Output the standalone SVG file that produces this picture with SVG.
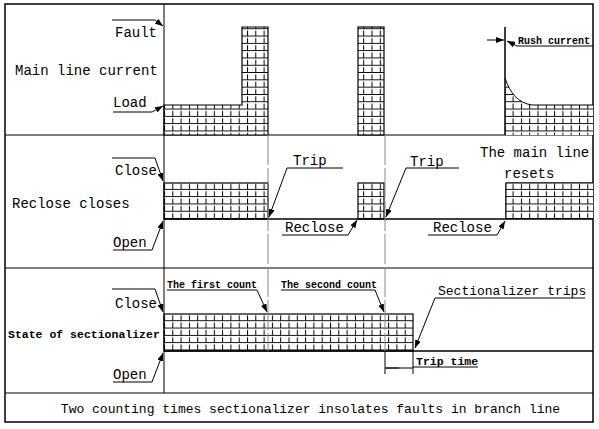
<svg xmlns="http://www.w3.org/2000/svg" width="599" height="429" viewBox="0 0 599 429">
<style>
.t{font-family:"Liberation Mono","DejaVu Sans Mono",monospace;font-size:14px;fill:#000}
.s{font-family:"Liberation Mono","DejaVu Sans Mono",monospace;font-size:10px;font-weight:bold;fill:#000}
.m{font-family:"Liberation Mono","DejaVu Sans Mono",monospace;font-size:11.5px;font-weight:bold;fill:#000}
.c{font-family:"Liberation Mono","DejaVu Sans Mono",monospace;font-size:13px;fill:#000}
.ln{stroke:#000;stroke-width:1;fill:none}
.bd{stroke:#000;stroke-width:1.5;fill:none}
.ar{stroke:#000;stroke-width:1;fill:none;marker-end:url(#ah)}
.gy{stroke:#888;stroke-width:1;fill:none;stroke-dasharray:30 3}
.h{fill:url(#grid);stroke:#000;stroke-width:1.2}
</style>
<defs>
<marker id="ah" markerUnits="userSpaceOnUse" markerWidth="8" markerHeight="6" refX="8" refY="3" orient="auto">
<path d="M0,0 L8,3 L0,6 z" fill="#000"/>
</marker>
<pattern id="grid" x="164" y="0" width="8.3" height="7.3" patternUnits="userSpaceOnUse">
<rect width="8.3" height="7.3" fill="#fff"/>
<path d="M0.5,1.3 V7.3 M0,6.8 H8.3" stroke="#000" stroke-width="1" fill="none"/>
</pattern>
</defs>

<g id="frame">
<rect x="5" y="4" width="588" height="418" class="bd"/>
<line x1="5" y1="135" x2="593" y2="135" class="ln"/>
<line x1="5" y1="268" x2="593" y2="268" class="ln"/>
<line x1="5" y1="393" x2="593" y2="393" class="ln"/>
<line x1="164" y1="4" x2="164" y2="393" class="ln"/>
</g>

<g id="panel-current">
<path d="M164,105 H242 V27 H268 V135 H164 Z" class="h"/>
<rect x="358" y="27" width="26" height="108" class="h"/>
<path d="M505,135 V78 C510,93 518,103 532,105 H593 V135 Z" fill="url(#grid)" stroke="none"/>
<path d="M532,105 H593" class="ln"/>
<line x1="505" y1="27" x2="505" y2="135" class="bd"/>
<path d="M505,78 C510,93 518,103 532,105" class="ln"/>
</g>

<g id="panel-recloser">
<rect x="164" y="183" width="104" height="36" class="h"/>
<rect x="358" y="183" width="26" height="36" class="h"/>
<path d="M593,183 H506 V219" fill="url(#grid)" stroke="#000" stroke-width="1.2"/>
<rect x="506" y="183" width="87" height="36" fill="url(#grid)" stroke="none"/>
<path d="M593,183 H506 V219" class="ln"/>
<line x1="164" y1="219" x2="593" y2="219" class="bd"/>
</g>

<g id="panel-sectionalizer">
<rect x="164" y="314" width="249" height="37" class="h"/>
<line x1="164" y1="351" x2="593" y2="351" class="bd"/>
</g>

<g id="guides">
<line x1="268" y1="135" x2="268" y2="351" class="gy"/>
<line x1="385" y1="135" x2="385" y2="351" class="gy"/>
</g>

<g id="connectors">
<path d="M112,20 H155 L163,26" class="ar"/>
<path d="M113,112 H152 L163,106" class="ar"/>
<path d="M487,40 H504" class="ar"/>
<path d="M593,46 H517 L507,41" class="ar"/>
<path d="M112,158 H155 L163,181" class="ar"/>
<path d="M113,250 H152 L163,221" class="ar"/>
<path d="M343,168 H287 L269,217" class="ar"/>
<path d="M282,235 H348 L357,220" class="ar"/>
<path d="M459,168 H406 L386,217" class="ar"/>
<path d="M428,235 H497 L505,221" class="ar"/>
<path d="M112,289 H155 L163,312" class="ar"/>
<path d="M113,382 H152 L163,353" class="ar"/>
<path d="M167,290 H257 L267,312" class="ar"/>
<path d="M281,290 H375 L384,312" class="ar"/>
<path d="M585,298 H435 L415,348" class="ar"/>
<line x1="385" y1="351" x2="385" y2="374" class="ln"/>
<line x1="413" y1="351" x2="413" y2="374" class="ln"/>
<path d="M399,368 H386" class="ar" style="marker-end:none"/>
<path d="M385,368 H413" class="ln"/>
<path d="M413,367 H478" class="ln"/>
</g>

<g id="labels">
<text x="157" y="37" class="t" text-anchor="end">Fault</text>
<text x="15" y="75" class="t">Main line current</text>
<text x="113" y="107" class="t">Load</text>
<text x="518" y="44" class="s">Rush current</text>
<text x="157" y="175" class="t" text-anchor="end">Close</text>
<text x="12" y="208" class="t">Reclose closes</text>
<text x="113" y="247" class="t">Open</text>
<text x="293" y="165" class="t">Trip</text>
<text x="285" y="232" class="t">Reclose</text>
<text x="410" y="166" class="t">Trip</text>
<text x="433" y="232" class="t">Reclose</text>
<text x="480" y="157" class="t">The main line</text>
<text x="504" y="178" class="t">resets</text>
<text x="167" y="288" class="s">The first count</text>
<text x="281" y="288" class="s">The second count</text>
<text x="157" y="308" class="t" text-anchor="end">Close</text>
<text x="8" y="338" class="m">State of sectionalizer</text>
<text x="113" y="379" class="t">Open</text>
<text x="438" y="295" class="c">Sectionalizer trips</text>
<text x="416" y="365" class="m">Trip time</text>
<text x="310.5" y="413" class="c" text-anchor="middle">Two counting times sectionalizer insolates faults in branch line</text>
</g>
</svg>
